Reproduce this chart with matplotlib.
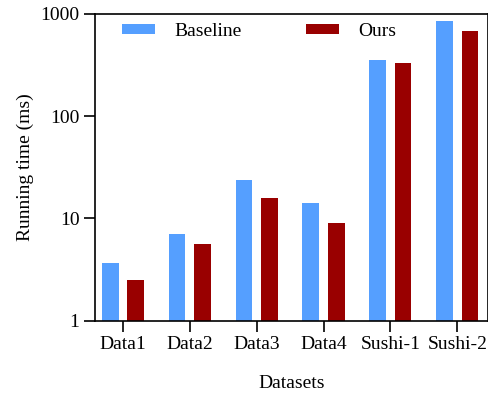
import matplotlib
matplotlib.use("Agg")
import matplotlib.pyplot as plt
import numpy as np

# data
datasets = ["Data1", "Data2", "Data3", "Data4", "Sushi-1", "Sushi-2"]
baseline = [3.7, 7.1, 23.9, 14.3, 354, 853]
ours = [2.5, 5.65, 15.8, 9.0, 329, 676]

plt.rcParams["font.family"] = ["Liberation Serif", "DejaVu Serif"]
plt.rcParams["font.size"] = 14

fig = plt.figure(figsize=(4.89, 3.95), dpi=100)
ax = fig.add_axes([0.194, 0.188, 0.804, 0.777])

x = np.arange(len(datasets))
w = 0.25
off = 0.19
ax.bar(x - off, baseline, w, color="#559FFF", label="Baseline")
ax.bar(x + off, ours, w, color="#990000", label="Ours")

ax.set_yscale("log")
ax.set_ylim(1, 1000)
ax.set_xlim(-0.42, 5.46)
ax.set_yticks([1, 10, 100, 1000])
ax.set_yticklabels(["1", "10", "100", "1000"])
ax.minorticks_off()
ax.set_xticks(x)
ax.set_xticklabels(datasets)

for s in ax.spines.values():
    s.set_linewidth(1.2)
ax.tick_params(axis="both", which="major", length=8, width=1.2, direction="out", pad=3)

ax.set_xlabel("Datasets", labelpad=16)
ax.set_ylabel("Running time (ms)", labelpad=5)

ax.legend(loc="upper left", bbox_to_anchor=(0.069, 0.97), ncol=2, frameon=False,
          handlelength=1.7, handleheight=0.45, handletextpad=1.0, columnspacing=3.3,
          borderpad=0, borderaxespad=0)

fig.savefig("out.png", dpi=100)
